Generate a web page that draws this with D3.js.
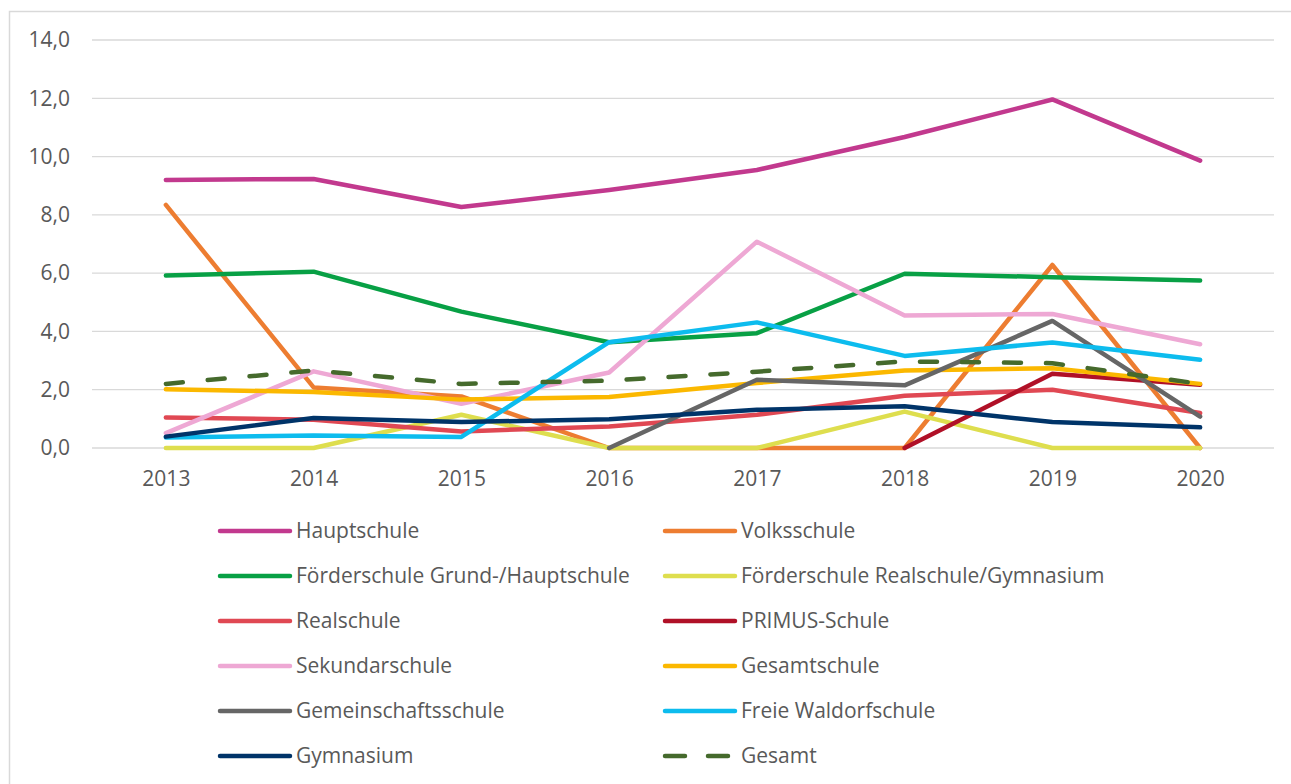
<!DOCTYPE html>
<meta charset="utf-8">
<script src="https://d3js.org/d3.v7.js"></script>
<style>
  body { margin: 0; background: #fff; }
  text { font-family: "Open Sans", sans-serif; fill: #595959; }
</style>
<div id="chart"></div>
<script>
// data
var years = ["2013", "2014", "2015", "2016", "2017", "2018", "2019", "2020"];
var yTicks = [0, 2, 4, 6, 8, 10, 12, 14];

var seriesNames = ["Hauptschule", "Volksschule", "Förderschule Grund-/Hauptschule",
  "Förderschule Realschule/Gymnasium", "Realschule", "PRIMUS-Schule", "Sekundarschule",
  "Gesamtschule", "Gemeinschaftsschule", "Freie Waldorfschule", "Gymnasium", "Gesamt"];

var hauptschule      = [9.20, 9.23, 8.27, 8.85, 9.54, 10.67, 11.96, 9.86];
var volksschule      = [8.34, 2.08, 1.77, 0, 0, 0, 6.28, 0];
var foerderGH        = [5.92, 6.05, 4.68, 3.63, 3.94, 5.98, 5.86, 5.75];
var foerderRG        = [0, 0, 1.14, 0, 0, 1.25, 0, 0];
var realschule       = [1.05, 0.97, 0.57, 0.74, 1.14, 1.79, 2.00, 1.20];
var primus           = [null, null, null, null, null, 0, 2.55, 2.17];
var sekundarschule   = [0.51, 2.63, 1.52, 2.59, 7.08, 4.55, 4.60, 3.56];
var gesamtschule     = [2.02, 1.92, 1.66, 1.75, 2.23, 2.66, 2.74, 2.20];
var gemeinschaft     = [null, null, null, 0, 2.34, 2.15, 4.36, 1.08];
var waldorf          = [0.36, 0.43, 0.38, 3.63, 4.31, 3.16, 3.62, 3.03];
var gymnasium        = [0.39, 1.03, 0.89, 0.99, 1.31, 1.43, 0.89, 0.71];
var gesamt           = [2.20, 2.66, 2.20, 2.31, 2.62, 2.97, 2.91, 2.20];

var seriesValues = [hauptschule, volksschule, foerderGH, foerderRG, realschule, primus,
  sekundarschule, gesamtschule, gemeinschaft, waldorf, gymnasium, gesamt];

var colours = ["#C2398E", "#ED7D31", "#08A045", "#DEDE4E", "#E04853", "#B01027",
  "#EEA8D4", "#FBB800", "#666666", "#0DBCEE", "#003469", "#456A2C"];

var W = 1291, H = 784;
var plot = {left: 92, right: 1274, top: 40, bottom: 448};

var svg = d3.select("#chart").append("svg")
  .attr("width", W)
  .attr("height", H);

// chart frame
svg.append("rect")
  .attr("x", 9.5).attr("y", 11.5)
  .attr("width", W).attr("height", H)
  .attr("fill", "none")
  .attr("stroke", "#D9D9D9")
  .attr("stroke-width", 1.5);

var x = d3.scalePoint()
  .domain(years)
  .range([plot.left, plot.right])
  .padding(0.5);

var y = d3.scaleLinear()
  .domain([0, 14])
  .range([plot.bottom, plot.top]);

// gridlines
svg.append("g")
  .selectAll("line")
  .data(yTicks)
  .enter()
  .append("line")
    .attr("x1", plot.left)
    .attr("x2", plot.right)
    .attr("y1", function(d) { return y(d); })
    .attr("y2", function(d) { return y(d); })
    .attr("stroke", "#D9D9D9")
    .attr("stroke-width", 1.3);

var yAxis = d3.axisLeft(y)
  .tickValues(yTicks)
  .tickSize(0)
  .tickPadding(0)
  .tickFormat(function(d) { return d3.format(".1f")(d).replace(".", ","); });

svg.append("g")
  .attr("transform", "translate(70,0)")
  .call(yAxis)
  .call(function(g) { g.select(".domain").remove(); })
  .selectAll("text")
    .style("font-size", "21px")
    .style("font-family", "'Open Sans', sans-serif")
    .attr("fill", "#595959");

var xAxis = d3.axisBottom(x).tickSize(0).tickPadding(0);

svg.append("g")
  .attr("transform", "translate(0," + plot.bottom + ")")
  .call(xAxis)
  .call(function(g) { g.select(".domain").remove(); })
  .selectAll("text")
    .attr("y", 38)
    .attr("dy", null)
    .style("font-size", "21px")
    .style("font-family", "'Open Sans', sans-serif")
    .attr("fill", "#595959");

var line = d3.line()
  .defined(function(d) { return d != null; })
  .x(function(d, i) { return x(years[i]); })
  .y(function(d) { return y(d); });

svg.append("g")
  .selectAll("path")
  .data(seriesValues)
  .enter()
  .append("path")
    .attr("d", function(d) { return line(d); })
    .attr("fill", "none")
    .attr("stroke", function(d, i) { return colours[i]; })
    .attr("stroke-width", 4.5)
    .attr("stroke-linejoin", "round")
    .attr("stroke-linecap", "round")
    .attr("stroke-dasharray", function(d, i) { return i == 11 ? "17,25" : null; });

// legend, two columns
var legend = svg.append("g")
  .selectAll("g")
  .data(seriesNames)
  .enter()
  .append("g")
    .attr("transform", function(d, i) {
      var col = i % 2, row = Math.floor(i / 2);
      return "translate(" + (col == 0 ? 220 : 665) + "," + (531 + row * 45) + ")";
    });

legend.append("line")
  .attr("x1", 0).attr("x2", 70)
  .attr("stroke", function(d, i) { return colours[i]; })
  .attr("stroke-width", 4.5)
  .attr("stroke-linecap", "round")
  .attr("stroke-dasharray", function(d, i) { return i == 11 ? "20,23" : null; });

legend.append("text")
  .attr("x", 76)
  .attr("dy", "0.35em")
  .style("font-size", "21px")
  .text(function(d) { return d; });
</script>
